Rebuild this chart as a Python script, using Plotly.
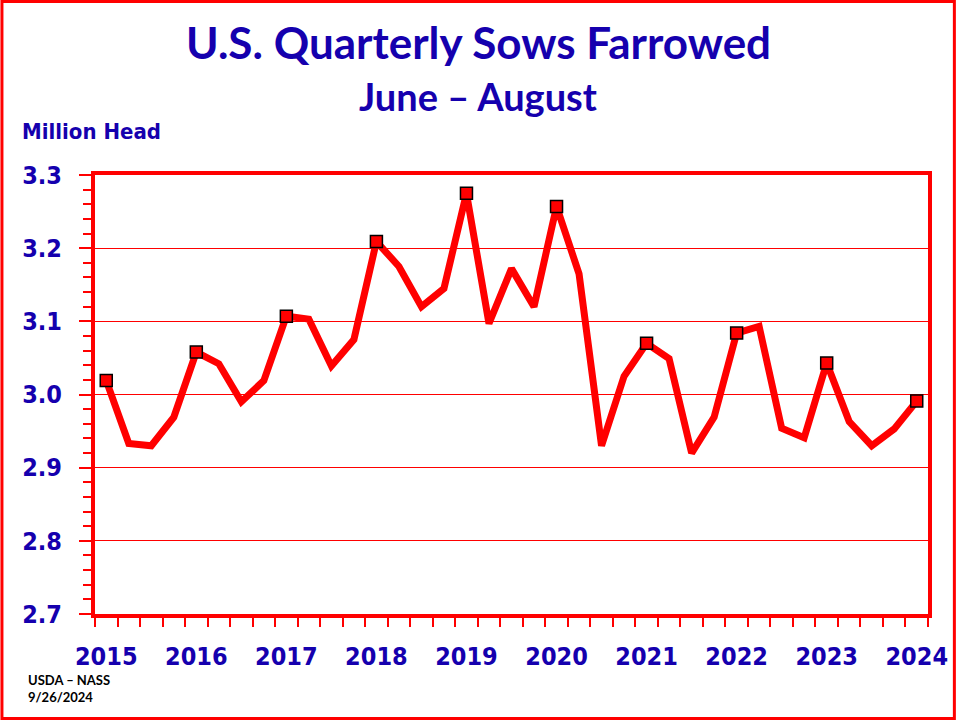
import plotly.graph_objects as go

years = ["2015", "2016", "2017", "2018", "2019", "2020", "2021", "2022", "2023", "2024"]
# Quarterly sows farrowed (million head), Q3 2015 .. Q3 2024 (quarter index 0..36)
sows = [3.019, 2.933, 2.930, 2.969,
        3.058, 3.042, 2.990, 3.019,
        3.107, 3.103, 3.039, 3.075,
        3.209, 3.175, 3.120, 3.145,
        3.275, 3.097, 3.172, 3.120,
        3.257, 3.165, 2.930, 3.025,
        3.070, 3.049, 2.920, 2.969,
        3.084, 3.093, 2.954, 2.941,
        3.043, 2.963, 2.930, 2.953,
        2.991]

quarters = list(range(len(sows)))
june_aug_idx = quarters[::4]
june_aug_vals = sows[::4]

BLUE = "#1500AE"
RED = "#FF0000"

W, H = 960, 720
L, R, T, B = 95, 28, 175, 106
pw, ph = W - L - R, H - T - B

fig = go.Figure()
fig.add_trace(go.Scatter(x=quarters, y=sows, mode="lines",
                         line=dict(color=RED, width=7), hoverinfo="skip",
                         showlegend=False))
fig.add_trace(go.Scatter(x=june_aug_idx, y=june_aug_vals, mode="markers",
                         marker=dict(symbol="square", size=12, color=RED,
                                     line=dict(color="black", width=1.5)),
                         showlegend=False))

fig.update_layout(
    width=W, height=H,
    margin=dict(l=L, r=R, t=T, b=B),
    paper_bgcolor="white", plot_bgcolor="white",
    font=dict(family="DejaVu Sans Condensed", color=BLUE),
)

def px2paper(xp, yp):
    return (xp - L) / pw, 1 - (yp - T) / ph

anns = []
x, y = px2paper(480, 42)
anns.append(dict(text="<b>U.S. Quarterly Sows Farrowed</b>", x=x, y=y, xref="paper", yref="paper",
                 showarrow=False, xanchor="center", yanchor="middle",
                 font=dict(family="Lato", size=44, color=BLUE)))
x, y = px2paper(480, 96)
anns.append(dict(text="<b>June – August</b>", x=x, y=y, xref="paper", yref="paper",
                 showarrow=False, xanchor="center", yanchor="middle",
                 font=dict(family="Lato", size=38, color=BLUE)))
x, y = px2paper(20, 131)
anns.append(dict(text="<b>Million Head</b>", x=x, y=y, xref="paper", yref="paper",
                 showarrow=False, xanchor="left", yanchor="middle",
                 font=dict(family="DejaVu Sans Condensed", size=22, color=BLUE)))
x, y = px2paper(26, 688)
anns.append(dict(text="<b>USDA – NASS<br>9/26/2024</b>", x=x, y=y, xref="paper", yref="paper",
                 showarrow=False, xanchor="left", yanchor="middle", align="left",
                 font=dict(family="Lato", size=13, color="black")))
fig.layout.annotations = anns

tickfont = dict(family="DejaVu Sans Condensed", size=25, color=BLUE, weight="bold")

fig.update_xaxes(
    range=[-0.5, len(sows) - 0.5],
    tickmode="array", tickvals=june_aug_idx, ticktext=years,
    ticks="outside", ticklen=9, tickcolor="rgba(0,0,0,0)",
    ticklabelstandoff=8,
    tickfont=tickfont,
    showgrid=False, zeroline=False,
    showline=True, linecolor=RED, linewidth=4, mirror=True,
    minor=dict(tickmode="array", tickvals=[q - 0.5 for q in quarters] + [len(sows) - 0.5],
               ticks="outside", ticklen=9, tickcolor=RED, tickwidth=1.5, showgrid=False),
)
fig.update_yaxes(
    range=[2.7, 3.3], dtick=0.1, tick0=2.7, tickformat=".1f",
    ticks="outside", ticklen=12, tickcolor=RED, tickwidth=1.5,
    ticklabelstandoff=12,
    tickfont=tickfont,
    showgrid=True, gridcolor=RED, gridwidth=1.2, zeroline=False,
    showline=True, linecolor=RED, linewidth=4, mirror=True,
    minor=dict(dtick=0.02, tick0=2.7, ticks="outside", ticklen=8, tickcolor=RED,
               tickwidth=1.5, showgrid=False),
)

# outer figure border
fig.add_shape(type="rect", xref="paper", yref="paper",
              x0=(1.5 - L) / pw, x1=(W - 1.5 - L) / pw,
              y0=1 - (H - 1.5 - T) / ph, y1=1 - (1.5 - T) / ph,
              line=dict(color=RED, width=3), layer="below")

fig.write_html("out.html", config={"displayModeBar": False},
               post_script="document.body.style.margin='0px';document.body.style.overflow='hidden';")
